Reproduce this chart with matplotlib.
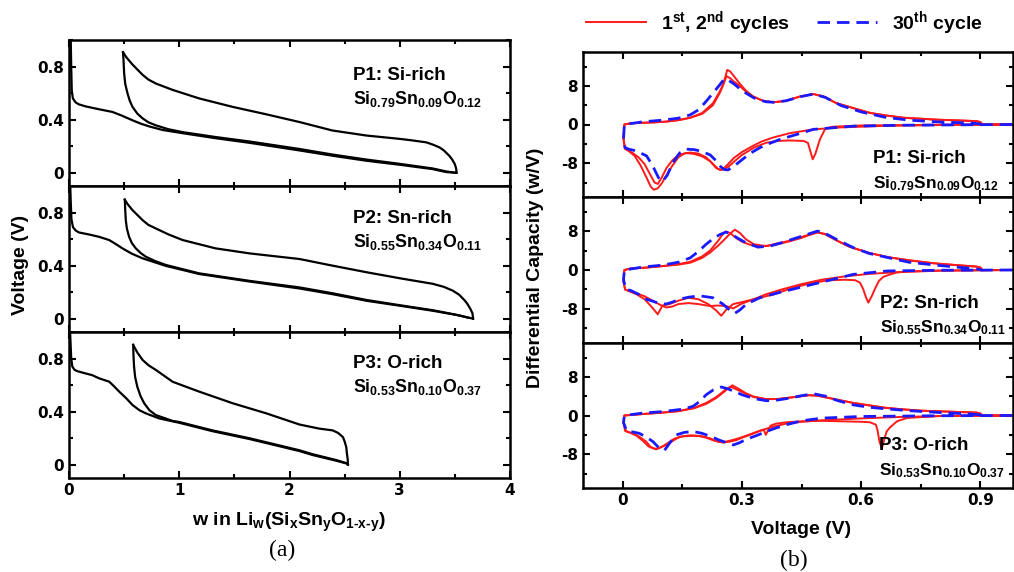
import numpy as np
import matplotlib
matplotlib.use("Agg")
import matplotlib.pyplot as plt
from matplotlib.ticker import MultipleLocator

plt.rcParams['font.family'] = ['Liberation Sans', 'DejaVu Sans']
plt.rcParams['font.weight'] = 'bold'
plt.rcParams['axes.unicode_minus'] = False
plt.rcParams['mathtext.fontset'] = 'custom'
plt.rcParams['mathtext.rm'] = 'Liberation Sans:bold'
plt.rcParams['mathtext.it'] = 'Liberation Sans:bold'
plt.rcParams['mathtext.bf'] = 'Liberation Sans:bold'

# ---------------- (a) voltage profiles, w in Li_w(SixSnyO1-x-y) ----------------
# P1: Si-rich
p1_d1_w = [0.015, 0.02, 0.025, 0.035, 0.06, 0.09, 0.15, 0.273, 0.394, 0.48, 0.576, 0.65, 0.727, 0.85, 1.03,
           1.33, 1.64, 2.09, 2.39, 2.7, 3.0, 3.3, 3.42, 3.515]
p1_d1_v = [1.05, 0.8, 0.62, 0.56, 0.53, 0.515, 0.50, 0.478, 0.458, 0.43, 0.395, 0.37, 0.349, 0.322, 0.298,
           0.26, 0.225, 0.168, 0.128, 0.09, 0.06, 0.027, 0.005, 0.0]
p1_ch_w = [3.515, 3.512, 3.5, 3.475, 3.45, 3.4, 3.36, 3.3, 3.24, 3.1, 3.0, 2.7, 2.39, 2.09, 1.79, 1.485, 1.18,
           0.94, 0.788, 0.72, 0.667, 0.576, 0.52, 0.49]
p1_ch_v = [0.0, 0.03, 0.064, 0.1, 0.127, 0.168, 0.191, 0.212, 0.229, 0.245, 0.255, 0.28, 0.318, 0.382, 0.44,
           0.496, 0.56, 0.624, 0.672, 0.702, 0.738, 0.815, 0.87, 0.908]
p1_d2_w = [0.49, 0.495, 0.5, 0.51, 0.53, 0.55, 0.576, 0.62, 0.667, 0.72, 0.788, 0.9, 1.03, 1.33, 1.64, 2.09,
           2.39, 2.7, 3.0, 3.3, 3.42, 3.5]
p1_d2_v = [0.908, 0.84, 0.75, 0.67, 0.6, 0.545, 0.496, 0.445, 0.41, 0.38, 0.357, 0.328, 0.306, 0.269, 0.235,
           0.179, 0.137, 0.099, 0.067, 0.032, 0.01, 0.0]

# P2: Sn-rich
p2_d1_w = [0.01, 0.015, 0.022, 0.036, 0.06, 0.09, 0.18, 0.273, 0.364, 0.42, 0.485, 0.57, 0.667, 0.879, 1.18,
           1.64, 2.09, 2.39, 2.7, 3.0, 3.3, 3.545, 3.665]
p2_d1_v = [1.05, 0.9, 0.75, 0.69, 0.665, 0.65, 0.635, 0.617, 0.593, 0.565, 0.53, 0.49, 0.455, 0.398, 0.337,
           0.28, 0.228, 0.185, 0.135, 0.098, 0.06, 0.024, 0.0]
p2_ch_w = [3.665, 3.66, 3.64, 3.615, 3.59, 3.54, 3.48, 3.4, 3.3, 3.0, 2.7, 2.39, 2.09, 1.64, 1.33, 1.03, 0.9,
           0.788, 0.72, 0.667, 0.576, 0.53, 0.506]
p2_ch_v = [0.0, 0.04, 0.075, 0.11, 0.137, 0.18, 0.212, 0.24, 0.263, 0.305, 0.35, 0.4, 0.45, 0.492, 0.53, 0.593,
           0.636, 0.68, 0.707, 0.743, 0.818, 0.865, 0.897]
p2_d2_w = [0.506, 0.51, 0.515, 0.525, 0.545, 0.57, 0.606, 0.65, 0.697, 0.78, 0.879, 1.18, 1.64, 2.09, 2.39,
           2.7, 3.0, 3.3, 3.5, 3.62]
p2_d2_v = [0.897, 0.82, 0.743, 0.68, 0.617, 0.57, 0.53, 0.495, 0.467, 0.435, 0.405, 0.342, 0.285, 0.236,
           0.192, 0.141, 0.102, 0.064, 0.032, 0.008]

# P3: O-rich
p3_d1_w = [0.01, 0.015, 0.02, 0.03, 0.05, 0.076, 0.14, 0.21, 0.273, 0.364, 0.41, 0.455, 0.52, 0.576, 0.64,
           0.697, 0.818, 1.0, 1.3, 1.64, 2.09, 2.21, 2.42, 2.515, 2.53]
p3_d1_v = [1.0, 0.9, 0.8, 0.74, 0.715, 0.705, 0.69, 0.675, 0.651, 0.626, 0.59, 0.551, 0.5, 0.45, 0.41, 0.387,
           0.349, 0.316, 0.253, 0.193, 0.103, 0.073, 0.031, 0.01, 0.0]
p3_ch_w = [2.53, 2.528, 2.52, 2.515, 2.5, 2.485, 2.44, 2.39, 2.27, 2.09, 1.79, 1.485, 1.18, 0.94, 0.788, 0.72,
           0.667, 0.62, 0.582]
p3_ch_v = [0.0, 0.04, 0.09, 0.133, 0.175, 0.208, 0.24, 0.259, 0.272, 0.303, 0.387, 0.463, 0.551, 0.625, 0.714,
           0.75, 0.79, 0.845, 0.903]
p3_d2_w = [0.582, 0.585, 0.59, 0.6, 0.62, 0.65, 0.682, 0.73, 0.788, 0.94, 1.0, 1.3, 1.64, 2.09, 2.21, 2.42,
           2.515]
p3_d2_v = [0.903, 0.82, 0.74, 0.66, 0.586, 0.515, 0.463, 0.41, 0.374, 0.33, 0.322, 0.259, 0.199, 0.109, 0.079,
           0.036, 0.012]

# ---------------- (b) differential capacity, dQ/dV (w/V) vs voltage ----------------
# each loop: lithiation branch (voltage falling) followed by delithiation branch (voltage rising)
p1_c1_v = [0.98, 0.8, 0.6, 0.53, 0.51, 0.496, 0.485, 0.478, 0.472, 0.466, 0.455, 0.42, 0.39, 0.36, 0.33, 0.30,
           0.28, 0.265, 0.25, 0.24, 0.225, 0.21, 0.19, 0.17, 0.155, 0.14, 0.125, 0.11, 0.098, 0.088, 0.078, 0.07,
           0.06, 0.045, 0.03, 0.015, 0.006, 0.002, 0.004,
           0.02, 0.05, 0.08, 0.11, 0.14, 0.17, 0.20, 0.227, 0.244, 0.252, 0.258, 0.263, 0.27, 0.278, 0.294, 0.31,
           0.328, 0.353, 0.378, 0.412, 0.446, 0.48, 0.505, 0.538, 0.58, 0.622, 0.664, 0.706, 0.79, 0.89, 0.9,
           0.905, 0.98]
p1_c1_dq = [0, -0.05, -0.2, -0.45, -0.8, -3.1, -6.0, -7.2, -5.5, -3.8, -3.4, -3.3, -3.4, -3.8, -4.8, -6.3,
            -7.7, -8.8, -9.4, -9.2, -8.0, -6.8, -6.0, -5.8, -6.0, -6.8, -8.5, -10.5, -12.2, -13.2, -13.5, -12.8,
            -11.0, -8.5, -6.5, -5.5, -5.0, -3.0, 0,
            0.25, 0.35, 0.45, 0.6, 0.9, 1.4, 2.4, 4.4, 6.8, 8.2, 9.8, 11.3, 11.0, 10.2, 8.5, 7.0, 5.8, 4.9, 4.6,
            4.9, 5.8, 6.3, 5.8, 4.4, 3.4, 2.4, 1.85, 1.4, 1.0, 0.7, 0.5, 0, 0]
p1_c2_v = [0.98, 0.8, 0.65, 0.55, 0.48, 0.42, 0.378, 0.35, 0.328, 0.30, 0.28, 0.265, 0.255, 0.245, 0.235,
           0.22, 0.20, 0.18, 0.16, 0.14, 0.125, 0.11, 0.098, 0.088, 0.08, 0.07, 0.055, 0.04, 0.025, 0.012, 0.005,
           0.002, 0.004,
           0.02, 0.05, 0.08, 0.11, 0.14, 0.17, 0.20, 0.227, 0.244, 0.252, 0.261, 0.27, 0.278, 0.294, 0.31, 0.328,
           0.353, 0.378, 0.412, 0.446, 0.48, 0.505, 0.538, 0.58, 0.622, 0.664, 0.706, 0.79, 0.89, 0.9, 0.905]
p1_c2_dq = [0, -0.1, -0.3, -0.6, -1.0, -1.8, -2.7, -3.5, -4.4, -5.7, -6.9, -8.2, -9.0, -9.4, -9.0, -7.6,
            -6.6, -6.1, -5.9, -6.3, -7.4, -9.0, -11.0, -12.3, -12.0, -10.5, -8.2, -6.8, -5.9, -5.3, -5.0, -3.0, 0,
            0.25, 0.35, 0.45, 0.6, 0.9, 1.4, 2.2, 4.0, 6.5, 8.0, 10.0, 9.6, 9.0, 8.0, 6.8, 5.8, 4.9, 4.6, 4.9,
            5.8, 6.3, 5.8, 4.4, 3.4, 2.4, 1.85, 1.4, 1.0, 0.7, 0.5, 0]
p1_c30_v = [0.98, 0.7, 0.58, 0.48, 0.44, 0.395, 0.37, 0.345, 0.32, 0.30, 0.28, 0.265, 0.255, 0.245, 0.235,
            0.22, 0.20, 0.18, 0.16, 0.143, 0.126, 0.112, 0.1, 0.09, 0.075, 0.06, 0.045, 0.03, 0.015, 0.006,
            0.002, 0.004,
            0.05, 0.10, 0.14, 0.17, 0.19, 0.21, 0.23, 0.245, 0.255, 0.265, 0.28, 0.30, 0.33, 0.36, 0.38, 0.41,
            0.45, 0.48, 0.51, 0.55, 0.60, 0.66, 0.72, 0.80, 0.88, 0.9]
p1_c30_dq = [0, -0.15, -0.35, -1.0, -2.0, -3.1, -3.9, -4.8, -6.0, -7.3, -8.6, -9.4, -9.3, -8.6, -7.5, -6.3,
             -5.6, -5.2, -5.1, -5.9, -7.9, -10.5, -11.8, -11.0, -8.5, -6.5, -5.9, -5.4, -5.1, -4.8, -3.0, 0,
             0.55, 0.9, 1.3, 2.0, 3.0, 4.8, 6.8, 8.3, 9.4, 9.2, 8.4, 7.0, 5.5, 4.7, 4.6, 4.9, 5.8, 6.3, 5.6, 3.9,
             2.6, 1.5, 0.9, 0.5, 0.3, 0.1]

p2_c1_v = [0.98, 0.8, 0.72, 0.69, 0.673, 0.656, 0.645, 0.635, 0.627, 0.618, 0.612, 0.605, 0.597, 0.585, 0.56,
           0.52, 0.48, 0.43, 0.38, 0.33, 0.30, 0.278, 0.26, 0.248, 0.235, 0.215, 0.19, 0.165, 0.14, 0.118, 0.10,
           0.088, 0.075, 0.055, 0.035, 0.015, 0.006, 0.002, 0.004,
           0.02, 0.06, 0.10, 0.14, 0.17, 0.20, 0.22, 0.24, 0.255, 0.268, 0.282, 0.295, 0.31, 0.33, 0.36, 0.39,
           0.42, 0.45, 0.47, 0.49, 0.51, 0.54, 0.57, 0.62, 0.67, 0.72, 0.78, 0.84, 0.89, 0.9, 0.905, 0.98]
p2_c1_dq = [0, -0.1, -0.3, -0.5, -0.9, -1.4, -2.2, -3.8, -5.3, -6.7, -5.6, -3.9, -2.6, -2.1, -2.0, -2.1, -2.6,
            -3.6, -5.0, -6.0, -6.6, -7.0, -8.2, -9.4, -8.3, -7.0, -6.0, -5.7, -6.3, -7.0, -7.3, -9.1, -7.8,
            -6.0, -5.0, -4.3, -4.0, -2.5, 0,
            0.3, 0.5, 0.8, 1.1, 1.5, 2.5, 3.6, 5.0, 6.2, 7.3, 8.3, 7.6, 6.3, 5.3, 4.9, 5.3, 5.9, 6.6, 7.2, 7.7,
            7.4, 6.0, 4.8, 3.5, 2.6, 2.0, 1.4, 1.0, 0.7, 0.5, 0, 0]
p2_c2_v = [0.98, 0.8, 0.7, 0.62, 0.56, 0.50, 0.45, 0.40, 0.36, 0.33, 0.30, 0.278, 0.26, 0.24, 0.22, 0.19,
           0.165, 0.14, 0.125, 0.11, 0.095, 0.075, 0.055, 0.035, 0.015, 0.006, 0.002, 0.004,
           0.02, 0.06, 0.10, 0.14, 0.17, 0.20, 0.22, 0.24, 0.252, 0.26, 0.27, 0.285, 0.30, 0.32, 0.34, 0.365,
           0.39, 0.42, 0.45, 0.47, 0.49, 0.51, 0.54, 0.57, 0.62, 0.67, 0.72, 0.78, 0.84, 0.89, 0.9, 0.905]
p2_c2_dq = [0, -0.15, -0.4, -0.8, -1.3, -2.0, -2.9, -4.0, -5.0, -6.0, -6.9, -7.9, -7.4, -7.3, -7.4, -7.0, -6.8,
            -7.0, -7.5, -7.7, -7.2, -6.3, -5.4, -4.8, -4.3, -4.0, -2.5, 0,
            0.3, 0.5, 0.8, 1.2, 1.7, 2.8, 4.0, 6.0, 7.4, 7.9, 7.6, 6.6, 5.8, 5.2, 4.9, 5.0, 5.5, 6.0, 6.8, 7.3,
            7.8, 7.3, 6.0, 4.8, 3.5, 2.6, 2.0, 1.4, 1.0, 0.7, 0.5, 0]
p2_c30_v = [0.98, 0.8, 0.665, 0.58, 0.48, 0.395, 0.345, 0.311, 0.295, 0.282, 0.27, 0.252, 0.227, 0.193, 0.165,
            0.143, 0.125, 0.109, 0.093, 0.075, 0.059, 0.04, 0.02, 0.008, 0.002, 0.004,
            0.05, 0.10, 0.14, 0.17, 0.19, 0.21, 0.23, 0.245, 0.26, 0.275, 0.29, 0.31, 0.34, 0.37, 0.40, 0.43,
            0.46, 0.49, 0.51, 0.54, 0.58, 0.62, 0.67, 0.72, 0.80, 0.88, 0.9]
p2_c30_dq = [0, -0.05, -0.2, -0.9, -2.9, -4.6, -5.7, -7.0, -8.2, -8.9, -8.3, -7.0, -5.7, -5.3, -5.6, -6.0,
             -6.6, -7.0, -6.9, -6.4, -6.0, -5.0, -4.2, -4.0, -2.0, 0,
             0.6, 1.0, 1.6, 2.5, 3.8, 5.3, 6.6, 7.3, 7.8, 7.3, 6.5, 5.6, 4.7, 4.9, 5.6, 6.4, 7.2, 8.0, 7.5, 6.2,
             4.6, 3.4, 2.5, 1.6, 0.9, 0.3, 0.1]

p3_c1_v = [0.98, 0.8, 0.716, 0.69, 0.672, 0.664, 0.658, 0.652, 0.646, 0.641, 0.637, 0.622, 0.60, 0.55, 0.50,
           0.45, 0.412, 0.385, 0.372, 0.366, 0.36, 0.355, 0.345, 0.32, 0.30, 0.286, 0.27, 0.252, 0.235, 0.219,
           0.20, 0.177, 0.155, 0.143, 0.125, 0.109, 0.095, 0.084, 0.07, 0.059, 0.04, 0.025, 0.012, 0.006, 0.002,
           0.004,
           0.05, 0.10, 0.14, 0.18, 0.21, 0.235, 0.252, 0.265, 0.276, 0.29, 0.31, 0.33, 0.36, 0.39, 0.42, 0.45,
           0.47, 0.49, 0.52, 0.55, 0.58, 0.62, 0.66, 0.70, 0.75, 0.82, 0.89, 0.9, 0.905, 0.98]
p3_c1_dq = [0, -0.1, -0.5, -1.2, -2.5, -3.3, -5.0, -6.8, -5.4, -3.0, -1.9, -1.4, -1.3, -1.2, -1.1, -1.2, -1.4,
            -1.7, -2.1, -3.0, -4.0, -3.0, -3.2, -4.0, -4.6, -5.1, -5.4, -5.6, -5.3, -4.7, -4.3, -4.2, -4.3,
            -4.4, -5.3, -6.1, -6.6, -7.0, -6.5, -5.4, -4.3, -3.7, -3.4, -3.2, -1.5, 0,
            0.3, 0.6, 0.9, 1.5, 2.4, 3.6, 4.7, 5.6, 6.25, 5.6, 4.6, 3.9, 3.4, 3.4, 3.7, 4.0, 4.2, 4.1, 3.6, 3.1,
            2.6, 2.1, 1.6, 1.3, 1.0, 0.8, 0.6, 0.4, 0, 0]
p3_c2_v = [0.98, 0.8, 0.7, 0.6, 0.5, 0.45, 0.41, 0.38, 0.35, 0.32, 0.30, 0.28, 0.26, 0.245, 0.23, 0.21, 0.19,
           0.17, 0.15, 0.13, 0.115, 0.10, 0.09, 0.08, 0.065, 0.05, 0.035, 0.02, 0.008, 0.002, 0.004,
           0.05, 0.10, 0.14, 0.18, 0.21, 0.235, 0.252, 0.262, 0.272, 0.286, 0.31, 0.33, 0.36, 0.39, 0.42, 0.45,
           0.47, 0.49, 0.52, 0.55, 0.58, 0.62, 0.66, 0.70, 0.75, 0.82, 0.89, 0.9, 0.905]
p3_c2_dq = [0, -0.1, -0.3, -0.6, -1.0, -1.3, -1.7, -2.3, -3.0, -3.9, -4.5, -5.0, -5.4, -5.5, -5.2, -4.6, -4.2,
            -4.1, -4.3, -4.8, -5.6, -6.4, -6.8, -6.9, -6.4, -5.2, -4.2, -3.6, -3.2, -1.5, 0,
            0.3, 0.6, 0.9, 1.6, 2.6, 3.8, 4.9, 5.6, 5.95, 5.4, 4.5, 3.8, 3.4, 3.4, 3.7, 4.0, 4.2, 4.1, 3.6, 3.1,
            2.6, 2.1, 1.6, 1.3, 1.0, 0.8, 0.6, 0.4, 0]
p3_c30_v = [0.98, 0.8, 0.6, 0.5, 0.45, 0.412, 0.385, 0.362, 0.335, 0.311, 0.295, 0.278, 0.26, 0.24, 0.227, 0.2,
            0.177, 0.155, 0.135, 0.12, 0.105, 0.09, 0.076, 0.06, 0.042, 0.025, 0.01, 0.002, 0.004,
            0.05, 0.10, 0.15, 0.177, 0.195, 0.21, 0.228, 0.248, 0.265, 0.28, 0.30, 0.33, 0.362, 0.39, 0.42, 0.45,
            0.48, 0.51, 0.54, 0.58, 0.62, 0.66, 0.72, 0.80, 0.88, 0.9]
p3_c30_dq = [0, -0.05, -0.2, -0.55, -1.1, -1.9, -2.6, -3.3, -4.2, -4.9, -5.6, -6.1, -5.6, -5.0, -4.5, -3.7,
             -3.3, -3.5, -4.0, -5.5, -7.2, -6.6, -5.4, -4.5, -3.7, -3.4, -3.2, -1.5, 0,
             0.5, 0.8, 1.3, 1.9, 3.0, 4.3, 5.3, 5.9, 5.5, 5.0, 4.3, 3.5, 3.05, 3.2, 3.6, 4.1, 4.5, 4.0, 3.1, 2.2,
             1.7, 1.4, 1.0, 0.6, 0.3, 0.1]

sample_names = ["P1: Si-rich", "P2: Sn-rich", "P3: O-rich"]
sample_formulas = [r"Si$_{0.79}$Sn$_{0.09}$O$_{0.12}$",
                   r"Si$_{0.55}$Sn$_{0.34}$O$_{0.11}$",
                   r"Si$_{0.53}$Sn$_{0.10}$O$_{0.37}$"]

galv = [(p1_d1_w, p1_d1_v, p1_ch_w, p1_ch_v, p1_d2_w, p1_d2_v),
        (p2_d1_w, p2_d1_v, p2_ch_w, p2_ch_v, p2_d2_w, p2_d2_v),
        (p3_d1_w, p3_d1_v, p3_ch_w, p3_ch_v, p3_d2_w, p3_d2_v)]
dqdv = [(p1_c1_v, p1_c1_dq, p1_c2_v, p1_c2_dq, p1_c30_v, p1_c30_dq),
        (p2_c1_v, p2_c1_dq, p2_c2_v, p2_c2_dq, p2_c30_v, p2_c30_dq),
        (p3_c1_v, p3_c1_dq, p3_c2_v, p3_c2_dq, p3_c30_v, p3_c30_dq)]

W, H = 1014, 572
fig = plt.figure(figsize=(W / 100, H / 100), dpi=100)


def box(x0, x1, ytop, ybot):
    return [x0 / W, 1 - ybot / H, (x1 - x0) / W, (ybot - ytop) / H]


def style(ax):
    for s in ax.spines.values():
        s.set_linewidth(1.8)
    # tick numbers are set in the broader DejaVu face
    ax.tick_params(which='both', direction='in', top=True, right=True, width=1.5,
                   labelsize=11, labelfontfamily='DejaVu Sans')
    ax.tick_params(which='major', length=5)
    ax.tick_params(which='minor', length=3)


left_rows = [40, 186, 332, 478]
right_rows = [52, 197, 343, 488]
left_text_y = [(0.726, 0.562), (0.749, 0.584), (0.75, 0.591)]
right_text_xy = [(0.674, 0.232, 0.06), (0.69, 0.239, 0.071), (0.688, 0.262, 0.09)]
red = '#ff1a1a'
blue = '#1a1aff'

for i in range(3):
    # left: voltage vs Li content
    ax = fig.add_axes(box(69, 510, left_rows[i], left_rows[i + 1]))
    d1w, d1v, chw, chv, d2w, d2v = galv[i]
    for xs, ys in [(d1w, d1v), (chw, chv), (d2w, d2v)]:
        ax.plot(xs, ys, color='k', lw=1.6, solid_joinstyle='round')
    ax.set_xlim(0, 4)
    ax.set_ylim(-0.1, 1.0)
    ax.set_xticks([0, 1, 2, 3, 4])
    ax.set_xticklabels(['0', '1', '2', '3', '4'])
    ax.xaxis.set_minor_locator(MultipleLocator(0.5))
    ax.set_yticks([0, 0.4, 0.8])
    ax.set_yticklabels(['0', '0.4', '0.8'])
    ax.yaxis.set_minor_locator(MultipleLocator(0.2))
    style(ax)
    if i < 2:
        ax.tick_params(labelbottom=False)
    ty1, ty2 = left_text_y[i]
    ax.text(0.645, ty1, sample_names[i], transform=ax.transAxes, fontsize=13.5, va='baseline')
    ax.text(0.645, ty2, sample_formulas[i], transform=ax.transAxes, fontsize=12.8, va='baseline')

    # right: differential capacity
    bx = fig.add_axes(box(583, 1013, right_rows[i], right_rows[i + 1]))
    c1v, c1q, c2v, c2q, c30v, c30q = dqdv[i]
    l1, = bx.plot(c1v, c1q, color=red, lw=1.4, label=r'1$^{\mathregular{st}}$, 2$^{\mathregular{nd}}$ cycles')
    bx.plot(c2v, c2q, color=red, lw=1.4)
    l2, = bx.plot(c30v, c30q, color=blue, lw=2.0, dashes=(4.5, 2.5), label=r'30$^{\mathregular{th}}$ cycle')
    bx.set_xlim(-0.1, 0.982)
    bx.set_ylim(-15, 15)
    bx.set_xticks([0, 0.3, 0.6, 0.9])
    bx.set_xticklabels(['0', '0.3', '0.6', '0.9'])
    bx.xaxis.set_minor_locator(MultipleLocator(0.15))
    bx.set_yticks([-8, 0, 8])
    bx.set_yticklabels(['-8', '0', '8'])
    bx.yaxis.set_minor_locator(MultipleLocator(4))
    style(bx)
    if i < 2:
        bx.tick_params(labelbottom=False)
    tx, ty1, ty2 = right_text_xy[i]
    bx.text(tx, ty1, sample_names[i], fontsize=13.5, va='baseline', transform=bx.transAxes)
    bx.text(tx, ty2, sample_formulas[i], fontsize=12.5, va='baseline', transform=bx.transAxes)

fig.text(21 / W, 1 - 265 / H, 'Voltage (V)', rotation=90, ha='center', va='center', fontsize=14)
fig.text(289 / W, 1 - 522 / H, r'w in Li$_w$(Si$_x$Sn$_y$O$_{1\text{-}x\text{-}y}$)', ha='center', va='center',
         fontsize=14)
fig.text(282 / W, 1 - 550 / H, '(a)', ha='center', va='center', fontsize=17,
         family='Liberation Serif', weight='normal')
fig.text(535 / W, 1 - 268 / H, 'Differential Capacity (w/V)', rotation=90, ha='center', va='center',
         fontsize=14)
fig.text(801 / W, 1 - 529 / H, 'Voltage (V)', ha='center', va='center', fontsize=14)
fig.text(794 / W, 1 - 560 / H, '(b)', ha='center', va='center', fontsize=17,
         family='Liberation Serif', weight='normal')

fig.legend(handles=[l1, l2], loc='center', bbox_to_anchor=(784 / W, 1 - 23 / H), ncol=2, frameon=False,
           fontsize=14, handlelength=3.1, handletextpad=0.75, columnspacing=1.4)

fig.savefig('out.png', dpi=100)
